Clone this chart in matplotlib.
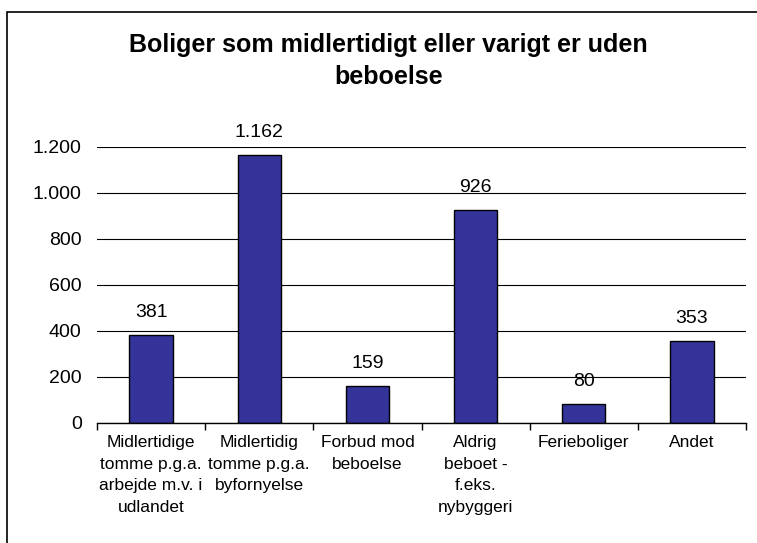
import matplotlib.pyplot as plt
from matplotlib.patches import Rectangle
from matplotlib.ticker import FuncFormatter, FixedLocator

plt.rcParams['font.family'] = ['Liberation Sans', 'DejaVu Sans']

# data
kategorier = ["Midlertidige\ntomme p.g.a.\narbejde m.v. i\nudlandet",
              "Midlertidig\ntomme p.g.a.\nbyfornyelse",
              "Forbud mod\nbeboelse",
              "Aldrig\nbeboet -\nf.eks.\nnybyggeri",
              "Ferieboliger",
              "Andet"]
antal = [381, 1162, 159, 926, 80, 353]
titel = "Boliger som midlertidigt eller varigt er uden\nbeboelse"

fig = plt.figure(figsize=(7.57, 5.43), dpi=100)

# ramme om figuren (går ud over højre og nederste kant)
fig.patches.append(Rectangle((7 / 757, -0.1), 1.2, 1 - 12 / 543 + 0.1,
                             transform=fig.transFigure, fill=False,
                             edgecolor="black", linewidth=1.2))

ax = fig.add_axes([97 / 757, 1 - 422.5 / 543, 649 / 757, (422.5 - 146.7) / 543])

x = range(len(antal))
ax.bar(x, antal, width=0.4, color="#333399", edgecolor="black", linewidth=1, zorder=3)

for xi, v in zip(x, antal):
    ax.annotate(f"{v:,}".replace(",", "."), (xi, v), xytext=(0, 13),
                textcoords="offset points", ha="center", va="baseline", fontsize=14)

ax.set_xlim(-0.5, len(antal) - 0.5)
ax.set_ylim(0, 1200)
ax.set_yticks(range(0, 1201, 200))
ax.yaxis.set_major_formatter(FuncFormatter(lambda v, p: f"{int(v):,}".replace(",", ".")))
ax.yaxis.grid(True, color="black", linewidth=0.8, zorder=0)
ax.tick_params(axis="y", length=0, labelsize=14, pad=11)

ax.set_xticks(list(x))
ax.set_xticklabels(kategorier, fontsize=12.5, linespacing=1.55)
ax.tick_params(axis="x", which="major", length=0, pad=9)
ax.xaxis.set_minor_locator(FixedLocator([i - 0.5 for i in range(len(antal) + 1)]))
ax.tick_params(axis="x", which="minor", length=5, direction="out", width=1)

for s in ["top", "right", "left"]:
    ax.spines[s].set_visible(False)
ax.spines["bottom"].set_linewidth(1)
ax.spines["bottom"].set_zorder(4)

fig.text(0.513, 1 - 61 / 543, titel, ha="center", va="center",
         fontsize=18, fontweight="bold", linespacing=1.4)

fig.savefig("out.png", dpi=100)
